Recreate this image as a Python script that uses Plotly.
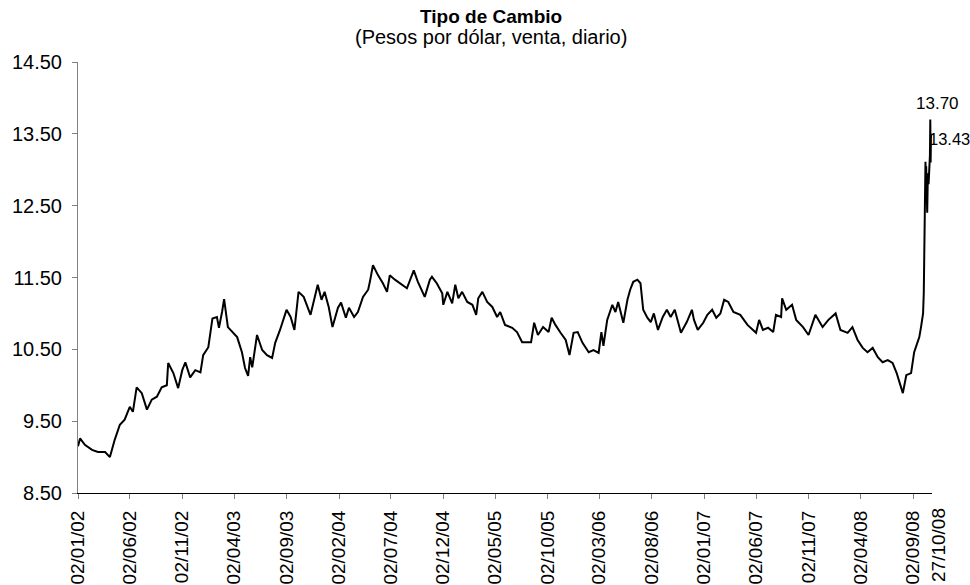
import plotly.graph_objects as go

fechas = [
"2002-01-02","2002-01-08","2002-01-22","2002-02-12","2002-03-01","2002-03-22","2002-04-05","2002-04-19",
"2002-05-04","2002-05-18","2002-06-02","2002-06-11","2002-06-22","2002-07-07","2002-07-22","2002-08-05",
"2002-08-20","2002-09-03","2002-09-18","2002-09-22","2002-10-07","2002-10-21","2002-11-02","2002-11-11",
"2002-11-25","2002-12-10","2002-12-25","2003-01-02","2003-01-17","2003-01-29","2003-02-11","2003-02-17",
"2003-02-26","2003-03-04","2003-03-15","2003-04-11","2003-04-25","2003-05-04","2003-05-13","2003-05-19",
"2003-05-25","2003-06-08","2003-06-23","2003-07-07","2003-07-22","2003-07-31","2003-08-14","2003-09-02",
"2003-09-14","2003-09-25","2003-10-07","2003-10-22","2003-11-11","2003-11-20","2003-12-02","2003-12-13",
"2003-12-22","2004-01-03","2004-01-14","2004-01-30","2004-02-08","2004-02-22","2004-03-02","2004-03-17",
"2004-03-28","2004-04-12","2004-04-27","2004-05-02","2004-05-11","2004-05-26","2004-06-09","2004-06-21",
"2004-06-29","2004-07-14","2004-07-28","2004-08-18","2004-09-07","2004-09-19","2004-10-09","2004-10-24",
"2004-10-30","2004-11-13","2004-11-29","2004-12-02","2004-12-14","2004-12-28","2005-01-06","2005-01-15",
"2005-01-26","2005-02-10","2005-02-25","2005-03-08","2005-03-14","2005-03-26","2005-04-09","2005-04-24",
"2005-05-08","2005-05-17","2005-05-31","2005-06-21","2005-07-05","2005-07-20","2005-08-03","2005-08-15",
"2005-08-24","2005-09-04","2005-09-19","2005-10-05","2005-10-14","2005-10-25","2005-11-09","2005-11-24",
"2005-12-05","2005-12-17","2005-12-29","2006-01-12","2006-01-30","2006-02-13","2006-02-28","2006-03-08",
"2006-03-14","2006-03-25","2006-04-09","2006-04-18","2006-04-26","2006-05-11","2006-05-23","2006-05-31",
"2006-06-09","2006-06-21","2006-06-30","2006-07-08","2006-07-20","2006-07-30","2006-08-08","2006-08-20",
"2006-09-03","2006-09-15","2006-09-26","2006-10-08","2006-10-26","2006-11-12","2006-11-27","2006-12-03",
"2006-12-14","2006-12-30","2007-01-11","2007-01-25","2007-02-06","2007-02-18","2007-03-01","2007-03-13",
"2007-03-28","2007-04-17","2007-05-08","2007-06-02","2007-06-11","2007-06-22","2007-07-07","2007-07-22",
"2007-07-30","2007-08-14","2007-08-17","2007-08-29","2007-09-15","2007-09-27","2007-10-17","2007-11-02",
"2007-11-22","2007-12-13","2007-12-30","2008-01-20","2008-02-03","2008-02-24","2008-03-09","2008-03-24",
"2008-04-08","2008-04-22","2008-05-07","2008-05-22","2008-06-05","2008-06-20","2008-07-04","2008-07-16",
"2008-07-25","2008-08-03","2008-08-13","2008-08-27","2008-09-05","2008-09-20","2008-09-25","2008-10-01",
"2008-10-03","2008-10-06","2008-10-08","2008-10-09","2008-10-10","2008-10-13","2008-10-15","2008-10-17",
"2008-10-21","2008-10-22","2008-10-23","2008-10-24","2008-10-27",
]

tipo_cambio = [
9.15,9.26,9.17,9.10,9.07,9.07,9.00,9.24,
9.45,9.52,9.70,9.63,9.97,9.89,9.66,9.80,
9.84,9.97,10.00,10.31,10.17,9.96,10.21,10.32,
10.11,10.21,10.18,10.42,10.53,10.93,10.95,10.80,
11.02,11.20,10.81,10.67,10.46,10.24,10.13,10.39,
10.25,10.70,10.49,10.42,10.38,10.59,10.77,11.05,
10.95,10.77,11.30,11.23,10.98,11.16,11.40,11.19,
11.30,11.09,10.81,11.08,11.15,10.94,11.08,10.95,
11.02,11.23,11.33,11.44,11.67,11.53,11.42,11.30,
11.53,11.47,11.42,11.35,11.60,11.44,11.23,11.47,
11.51,11.42,11.28,11.12,11.30,11.14,11.40,11.21,
11.30,11.16,11.12,10.98,11.21,11.30,11.16,11.09,
10.95,11.02,10.84,10.80,10.74,10.60,10.60,10.60,
10.87,10.70,10.81,10.74,10.94,10.84,10.73,10.63,
10.42,10.73,10.74,10.59,10.46,10.49,10.45,10.74,
10.55,10.91,11.12,11.02,11.16,10.87,11.19,11.33,
11.44,11.47,11.42,11.05,10.94,10.88,11.00,10.77,
10.95,11.05,10.95,11.05,10.73,10.88,11.05,10.91,
10.77,10.87,10.98,11.05,10.94,11.00,11.19,11.16,
11.02,10.98,10.84,10.73,10.91,10.77,10.80,10.74,
10.98,10.95,11.21,11.05,11.12,10.91,10.81,10.70,
10.98,10.81,10.91,11.00,10.77,10.73,10.81,10.63,
10.52,10.46,10.52,10.39,10.32,10.35,10.31,10.17,
10.03,9.89,10.14,10.17,10.46,10.67,10.81,11.00,
11.28,12.12,13.11,12.60,13.05,12.40,12.95,12.80,
13.20,13.70,13.10,13.50,13.43,
]

tick_fechas = ["2002-01-02","2002-06-02","2002-11-02","2003-04-02","2003-09-02","2004-02-02",
               "2004-07-02","2004-12-02","2005-05-02","2005-10-02","2006-03-02","2006-08-02",
               "2007-01-02","2007-06-02","2007-11-02","2008-04-02","2008-09-02"]
tick_textos = ["02/01/02","02/06/02","02/11/02","02/04/03","02/09/03","02/02/04",
               "02/07/04","02/12/04","02/05/05","02/10/05","02/03/06","02/08/06",
               "02/01/07","02/06/07","02/11/07","02/04/08","02/09/08"]
ultima_etiqueta = "27/10/08"
y_ticks = [8.5, 9.5, 10.5, 11.5, 12.5, 13.5, 14.5]

FONT = "Liberation Sans, Arial, sans-serif"

fig = go.Figure()
fig.add_trace(go.Scatter(x=fechas, y=tipo_cambio, mode="lines",
                         line=dict(color="black", width=2), cliponaxis=False,
                         hoverinfo="skip", showlegend=False))

imax = tipo_cambio.index(max(tipo_cambio))
fig.add_annotation(x=fechas[imax], y=tipo_cambio[imax], text=f"{tipo_cambio[imax]:.2f}",
                   showarrow=False, xanchor="center", yanchor="bottom", xshift=7, yshift=4,
                   font=dict(family=FONT, size=17, color="black"))
fig.add_annotation(x=fechas[-1], y=tipo_cambio[-1], text=f"{tipo_cambio[-1]:.2f}",
                   showarrow=False, xanchor="left", yanchor="middle", xshift=-5,
                   font=dict(family=FONT, size=16.5, color="black"))
fig.add_annotation(x=fechas[-1], y=0, xref="x", yref="paper", text=ultima_etiqueta,
                   showarrow=False, textangle=-90, xanchor="center", yanchor="top",
                   xshift=6, yshift=-13, font=dict(family=FONT, size=19, color="black"))

fig.add_annotation(x=0.484, y=1, xref="paper", yref="paper", xanchor="center", yanchor="middle",
                   text="<b>Tipo de Cambio</b>", showarrow=False, yshift=46,
                   font=dict(family=FONT, size=19, color="black"))
fig.add_annotation(x=0.484, y=1, xref="paper", yref="paper", xanchor="center", yanchor="middle",
                   text="(Pesos por dólar, venta, diario)", showarrow=False, yshift=25,
                   font=dict(family=FONT, size=20, color="black"))

fig.update_layout(
    width=970, height=585,
    margin=dict(l=78, r=38, t=62, b=92),
    paper_bgcolor="white", plot_bgcolor="white",
    font=dict(family=FONT, size=20, color="black"),
    xaxis=dict(type="date", range=[fechas[0], fechas[-1]], tickmode="array",
               tickvals=tick_fechas, ticktext=tick_textos, tickangle=-90,
               ticks="outside", ticklen=5, tickcolor="#808080", showgrid=False,
               showline=True, linecolor="black", linewidth=1, zeroline=False,
               ticklabelstandoff=4, automargin=False,
               tickfont=dict(family=FONT, size=19, color="black")),
    yaxis=dict(range=[8.5, 14.5], tickmode="array", tickvals=y_ticks,
               ticktext=[f"{v:.2f}" for v in y_ticks],
               ticks="outside", ticklen=5, tickcolor="#808080", showgrid=False,
               showline=True, linecolor="#808080", linewidth=1, zeroline=False,
               ticklabelstandoff=6, automargin=False,
               tickfont=dict(family=FONT, size=20, color="black")),
)

fig.write_html("out.html",
               config={"displayModeBar": False},
               post_script="document.body.style.margin='0';"
                           "document.documentElement.style.overflow='hidden';"
                           "document.body.style.overflow='hidden';")
